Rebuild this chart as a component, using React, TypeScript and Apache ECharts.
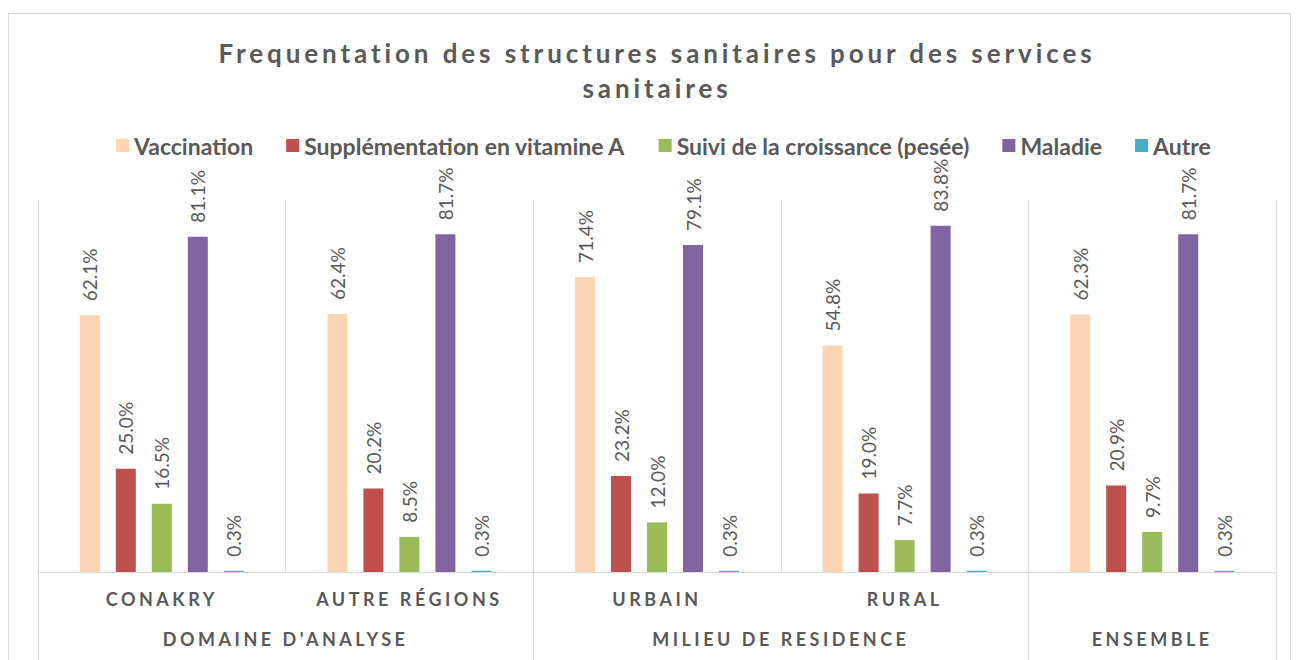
import React, { useEffect, useRef } from "react";
import * as echarts from "echarts";

const categories = ["CONAKRY", "AUTRE RÉGIONS", "URBAIN", "RURAL", ""];
const groups = ["DOMAINE D'ANALYSE", "MILIEU DE RESIDENCE", "ENSEMBLE"];
const groupCenters = [1, 3, 4.5];
const groupBounds = [0, 2, 4, 5];
const seriesNames = [
  "Vaccination",
  "Supplémentation en vitamine A",
  "Suivi de la croissance (pesée)",
  "Maladie",
  "Autre",
];
const vaccination = [62.1, 62.4, 71.4, 54.8, 62.3];
const supplementation = [25.0, 20.2, 23.2, 19.0, 20.9];
const suivi = [16.5, 8.5, 12.0, 7.7, 9.7];
const maladie = [81.1, 81.7, 79.1, 83.8, 81.7];
const autre = [0.3, 0.3, 0.3, 0.3, 0.3];
const colors = ["#FCD5B5", "#C0504D", "#9BBB59", "#8064A2", "#4BACC6"];
const titleLines = [
  "Frequentation des structures sanitaires pour des services",
  "sanitaires",
];

const FONT = "Lato, 'Open Sans', sans-serif";
const TEXT = "#595959";

export default function App() {
  const ref = useRef<HTMLDivElement>(null);

  useEffect(() => {
    const el = ref.current!;
    const chart = echarts.init(el, null, { renderer: "svg" });
    const values = [vaccination, supplementation, suivi, maladie, autre];

    const spacing = new Map<string, number>();
    titleLines.forEach((t) => spacing.set(t, 3.9));
    categories.forEach((c) => c && spacing.set(c, 3.5));
    groups.forEach((g) => spacing.set(g, 3.5));

    const applySpacing = () => {
      el.querySelectorAll("text").forEach((t) => {
        const s = (t.textContent || "").trim();
        const ls = spacing.get(s);
        if (ls != null) (t as SVGTextElement).style.letterSpacing = ls + "px";
      });
    };

    chart.setOption({
      animation: false,
      backgroundColor: "#ffffff",
      title: {
        text: titleLines.join("\n"),
        left: 643,
        textAlign: "center",
        top: 16,
        textStyle: {
          fontFamily: FONT,
          fontWeight: "bold",
          fontSize: 26,
          lineHeight: 35,
          color: TEXT,
        },
      },
      legend: {
        top: 120,
        left: 107,
        padding: 0,
        itemWidth: 13,
        itemHeight: 13,
        itemGap: 33,
        icon: "rect",
        textStyle: {
          fontFamily: FONT,
          fontWeight: "bold",
          fontSize: 23,
          color: TEXT,
        },
        data: seriesNames,
      },
      grid: { left: 29, right: 14, top: 186, bottom: 140, containLabel: false },
      xAxis: [
        {
          type: "category",
          data: categories,
          position: "bottom",
          axisLine: { show: true, lineStyle: { color: "#d9d9d9", width: 1 } },
          axisTick: { show: false },
          splitLine: { show: true, interval: 0, lineStyle: { color: "#d9d9d9", width: 1 } },
          axisLabel: {
            interval: 0,
            margin: 18,
            fontFamily: FONT,
            fontWeight: "bold",
            fontSize: 18,
            color: TEXT,
          },
        },
        {
          type: "value",
          min: 0,
          max: 5,
          position: "bottom",
          axisLine: { show: false },
          splitLine: { show: false },
          axisTick: {
            show: true,
            inside: false,
            length: 110,
            customValues: groupBounds,
            lineStyle: { color: "#d9d9d9", width: 1 },
          },
          axisLabel: {
            show: true,
            margin: 58,
            customValues: groupCenters,
            formatter: (v: number) => {
              const i = groupCenters.indexOf(v);
              return i >= 0 ? groups[i] : "";
            },
            fontFamily: FONT,
            fontWeight: "bold",
            fontSize: 18,
            color: TEXT,
          },
        },
      ],
      yAxis: {
        type: "value",
        min: 0,
        max: 90,
        show: false,
        splitLine: { show: false },
      },
      series: seriesNames.map((name, i) => ({
        name,
        type: "bar",
        xAxisIndex: 0,
        data: values[i],
        barWidth: 20,
        barGap: "80%",
        itemStyle: { color: colors[i] },
        label: {
          show: true,
          position: "top",
          distance: 14,
          rotate: 90,
          align: "left",
          verticalAlign: "middle",
          formatter: (p: any) => `${Number(p.value).toFixed(1)}%`,
          fontFamily: FONT,
          fontSize: 19,
          color: TEXT,
        },
      })),
    });

    applySpacing();
    chart.on("rendered", applySpacing);
    const t = window.setTimeout(applySpacing, 50);

    return () => {
      window.clearTimeout(t);
      chart.dispose();
    };
  }, []);

  return (
    <div
      style={{
        position: "fixed",
        left: 8,
        top: 13,
        width: 1283,
        height: 700,
        border: "1px solid #d9d9d9",
        boxSizing: "border-box",
        background: "#fff",
      }}
    >
      <div ref={ref} style={{ width: 1281, height: 698 }} />
    </div>
  );
}
